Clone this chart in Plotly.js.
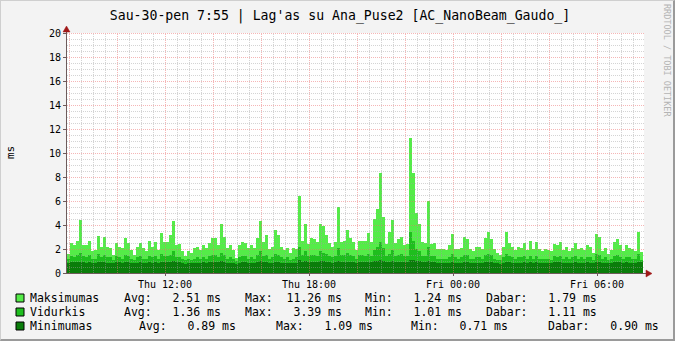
<!DOCTYPE html>
<html><head><meta charset="utf-8">
<script src="https://cdn.plot.ly/plotly-3.0.1.min.js"></script>
<style>
html,body{margin:0;padding:0;background:#F3F3F3;}
#wrap{position:relative;width:675px;height:341px;overflow:hidden;}
#chart{width:675px;height:341px;}
#frame{position:absolute;left:0;top:0;width:675px;height:341px;box-sizing:border-box;border-left:1px solid #CFCFCF;border-top:1px solid #CFCFCF;border-right:2px solid #9A9A9A;border-bottom:2px solid #9A9A9A;pointer-events:none;}
</style>
</head><body><div id="wrap"><div id="chart"></div><div id="frame"></div></div>
<script>
// ---- data ----
const startHour = 7 + 55/60;   // Thu 07:55
const stepHours = 0.125;       // one bar = 7.5 minutes
const seriesNames = ['Maksimumas', 'Vidurkis', 'Minimumas'];
const maxValues = [
 1.6,2.5,2.3,2.7,4.4,2.3,2.3,2.7,1.8,1.9,3.1,2.2,3.0,2.2,2.1,1.5,
 2.5,2.2,2.05,2.95,2.5,1.9,1.5,2.2,2.5,2.05,1.8,2.7,2.2,2.6,1.9,3.3,
 2.6,2.6,3.2,4.3,2.3,2.4,1.8,1.4,1.8,1.7,2.05,2.2,1.9,2.3,2.05,2.5,
 2.95,2.9,2.3,4.1,3.0,2.05,2.3,1.9,1.24,2.3,2.6,2.5,2.05,2.3,2.05,2.95,
 4.3,2.6,3.2,2.0,2.2,3.6,3.2,2.2,1.9,2.1,1.7,2.05,2.0,6.4,2.7,4.1,
 2.4,2.9,2.8,2.6,4.1,3.9,3.2,2.5,2.2,2.6,5.5,2.6,2.7,3.6,2.9,2.6,
 1.9,2.7,2.7,2.7,3.3,2.6,4.5,5.3,8.3,4.7,2.4,3.4,4.4,2.5,2.8,3.0,
 2.3,2.4,11.26,8.3,5.0,4.1,2.6,2.5,6.0,2.4,2.5,2.0,2.0,2.0,1.9,2.3,
 3.25,2.0,2.0,2.1,3.0,2.8,2.0,1.8,2.2,2.2,2.0,2.9,3.4,2.8,2.0,1.7,
 1.5,2.2,3.4,2.5,2.2,1.9,2.2,2.1,2.5,1.9,2.7,2.0,2.6,2.0,1.8,2.0,
 1.9,1.8,2.4,2.3,2.6,1.9,2.2,1.8,2.1,2.5,2.0,2.1,1.9,2.3,2.2,1.7,
 3.25,3.0,1.8,2.1,1.6,1.9,2.6,2.8,2.3,1.8,2.3,2.1,2.0,1.8,3.4,1.79
];
const avgValues = [
 1.2,1.4,1.3,1.5,1.7,1.4,1.3,1.5,1.2,1.2,1.6,1.3,1.5,1.3,1.3,1.1,
 1.4,1.3,1.2,1.5,1.4,1.2,1.1,1.3,1.4,1.2,1.2,1.4,1.3,1.4,1.2,1.6,
 1.4,1.4,1.5,1.8,1.3,1.3,1.2,1.05,1.2,1.1,1.2,1.3,1.2,1.3,1.2,1.4,
 1.5,1.5,1.3,1.7,1.5,1.2,1.3,1.2,1.01,1.3,1.4,1.4,1.2,1.3,1.2,1.5,
 1.8,1.4,1.5,1.2,1.3,1.6,1.5,1.3,1.2,1.3,1.1,1.2,1.3,2.2,1.5,1.8,
 1.4,1.5,1.5,1.4,1.8,1.7,1.6,1.4,1.3,1.4,2.05,1.5,1.5,1.7,1.5,1.4,
 1.2,1.5,1.5,1.4,1.6,1.4,1.9,2.2,2.6,2.1,1.4,1.6,1.9,1.4,1.5,1.6,
 1.4,1.4,3.39,2.7,2.0,1.8,1.4,1.4,2.2,1.4,1.4,1.2,1.2,1.2,1.2,1.3,
 1.6,1.3,1.2,1.3,1.5,1.5,1.2,1.15,1.3,1.3,1.2,1.5,1.6,1.5,1.2,1.1,
 1.1,1.3,1.6,1.4,1.3,1.2,1.3,1.3,1.4,1.2,1.4,1.2,1.4,1.2,1.15,1.2,
 1.2,1.1,1.4,1.3,1.4,1.2,1.3,1.15,1.3,1.4,1.2,1.3,1.2,1.3,1.3,1.1,
 1.6,1.5,1.15,1.3,1.1,1.2,1.4,1.5,1.3,1.2,1.3,1.3,1.2,1.15,1.6,1.11
];
const minValues = [
 0.85,0.9,0.88,0.92,0.95,0.9,0.87,0.9,0.85,0.86,0.93,0.88,0.92,0.87,0.86,0.8,
 0.9,0.88,0.85,0.92,0.9,0.84,0.8,0.87,0.9,0.86,0.84,0.9,0.87,0.9,0.85,0.95,
 0.9,0.9,0.93,0.98,0.88,0.88,0.84,0.78,0.84,0.8,0.85,0.87,0.84,0.88,0.85,0.9,
 0.93,0.92,0.88,0.98,0.93,0.85,0.87,0.84,0.71,0.87,0.9,0.9,0.85,0.87,0.85,0.93,
 0.97,0.9,0.92,0.85,0.87,0.95,0.92,0.87,0.84,0.86,0.8,0.85,0.86,1.05,0.92,0.98,
 0.9,0.93,0.92,0.9,0.98,0.96,0.93,0.9,0.87,0.9,1.04,0.9,0.91,0.95,0.92,0.9,
 0.84,0.92,0.92,0.9,0.93,0.9,0.98,1.02,1.07,1.0,0.88,0.93,0.98,0.89,0.91,0.93,
 0.88,0.88,1.09,1.06,1.0,0.97,0.9,0.88,1.02,0.88,0.89,0.85,0.85,0.85,0.84,0.87,
 0.93,0.86,0.85,0.86,0.91,0.9,0.85,0.83,0.87,0.87,0.85,0.91,0.93,0.9,0.85,0.8,
 0.78,0.87,0.93,0.9,0.87,0.85,0.87,0.86,0.9,0.84,0.9,0.85,0.9,0.85,0.82,0.85,
 0.85,0.82,0.9,0.88,0.9,0.84,0.87,0.82,0.87,0.9,0.85,0.87,0.84,0.88,0.87,0.8,
 0.93,0.92,0.82,0.87,0.8,0.84,0.9,0.92,0.88,0.84,0.88,0.87,0.85,0.83,0.93,0.90
];
const xTickValues = [12, 18, 24, 30];
const xTickLabels = ['Thu 12:00', 'Thu 18:00', 'Fri 00:00', 'Fri 06:00'];
const yTickValues = [0, 2, 4, 6, 8, 10, 12, 14, 16, 18, 20];
const legendRows = [
  ['Avg:', '2.51', 'Max:', '11.26', 'Min:', '1.24', 'Dabar:', '1.79'],
  ['Avg:', '1.36', 'Max:', '3.39', 'Min:', '1.01', 'Dabar:', '1.11'],
  ['Avg:', '0.89', 'Max:', '1.09', 'Min:', '0.71', 'Dabar:', '0.90']
];
const titleText = "Sau-30-pen 7:55 | Lag'as su Ana_Puse2 [AC_NanoBeam_Gaudo_]";
const yTitle = 'ms';
const watermark = 'RRDTOOL / TOBI OETIKER';

// ---- styles ----
const FONT = 'DejaVu Sans Mono, monospace';
const COLORS = ['#54EC48', '#1EBE1E', '#0A7D0A'];
const AXIS = '#6E5A5A';
const ARROW = '#A01818';
const MINOR = 'rgba(160,160,160,0.45)';
const MAJOR = 'rgba(235,110,110,0.5)';
const L = 67, T = 33, W = 577, H = 240;
const FW = 675, FH = 341;
const px2x = p => (p - L) / W;
const py2y = p => (T + H - p) / H;

const tEnd = startHour + W / 24;
const xs = maxValues.map((_, i) => startHour + (i + 0.5) * stepHours);
const seriesValues = [maxValues, avgValues, minValues];
const traces = seriesValues.map((vals, k) => ({
  type: 'bar', name: seriesNames[k], x: xs, y: vals, width: stepHours,
  marker: {color: COLORS[k], line: {width: 0}}, hoverinfo: 'skip'
}));

const shapes = [];
// vertical grid
for (let h = Math.ceil(startHour * 2) / 2; h < tEnd - 1e-9; h += 0.5) {
  const major = Math.abs(h / 2 - Math.round(h / 2)) < 1e-9;
  const xv = h + 0.5 / 24;
  shapes.push({type: 'line', xref: 'x', yref: 'paper', x0: xv, x1: xv, y0: 0, y1: 1, layer: 'above',
    line: {color: major ? MAJOR : MINOR, width: 1, dash: '1px,1px'}});
}
// horizontal grid
for (let v = 0.5; v <= 20 + 1e-9; v += 0.5) {
  const major = Math.abs(v / 2 - Math.round(v / 2)) < 1e-9;
  const yv = v - 0.5 / 12;
  shapes.push({type: 'line', xref: 'paper', yref: 'y', x0: 0, x1: 1, y0: yv, y1: yv, layer: 'above',
    line: {color: major ? MAJOR : MINOR, width: 1, dash: '1px,1px'}});
}
// axis arrows
shapes.push({type: 'line', xref: 'paper', yref: 'paper', x0: px2x(66.5), x1: px2x(66.5), y0: py2y(33), y1: py2y(30), line: {color: AXIS, width: 1}});
shapes.push({type: 'path', xref: 'paper', yref: 'paper', layer: 'above',
  path: `M ${px2x(66.5)},${py2y(26)} L ${px2x(63)},${py2y(32)} L ${px2x(70)},${py2y(32)} Z`,
  fillcolor: ARROW, line: {color: ARROW, width: 0.5}});
shapes.push({type: 'line', xref: 'paper', yref: 'paper', x0: px2x(644), x1: px2x(647), y0: py2y(273.5), y1: py2y(273.5), line: {color: AXIS, width: 1}});
shapes.push({type: 'path', xref: 'paper', yref: 'paper', layer: 'above',
  path: `M ${px2x(652)},${py2y(273.5)} L ${px2x(646)},${py2y(270)} L ${px2x(646)},${py2y(277)} Z`,
  fillcolor: ARROW, line: {color: ARROW, width: 0.5}});

// legend
const rowY = [298, 312, 326];
const groupX = [[124, 244.5, 365, 486], [124, 244.5, 365, 486], [138.6, 275.5, 411, 547.6]];
const annotations = [];
const LF = {family: FONT, size: 11.5, color: '#000'};
rowY.forEach((cy, r) => {
  shapes.push({type: 'rect', xref: 'paper', yref: 'paper',
    x0: px2x(16), x1: px2x(24), y0: py2y(cy + 4), y1: py2y(cy - 4),
    fillcolor: COLORS[r], line: {color: '#000', width: 1}});
  annotations.push({xref: 'paper', yref: 'paper', x: px2x(30), y: py2y(cy), xanchor: 'left', yanchor: 'middle',
    text: seriesNames[r], showarrow: false, font: LF, borderpad: 0, borderwidth: 0});
  const row = legendRows[r];
  for (let g = 0; g < 4; g++) {
    const label = row[g * 2], val = row[g * 2 + 1];
    const txt = label + val.padStart(7, ' ') + ' ms';
    annotations.push({xref: 'paper', yref: 'paper', x: px2x(groupX[r][g]), y: py2y(cy), xanchor: 'left', yanchor: 'middle',
      text: txt.replace(/ /g, '&nbsp;'), showarrow: false, font: LF, borderpad: 0, borderwidth: 0});
  }
});
annotations.push({xref: 'paper', yref: 'paper', x: px2x(10), y: py2y(153), xanchor: 'center', yanchor: 'middle',
  text: yTitle, textangle: -90, showarrow: false, font: {family: FONT, size: 11, color: '#000'}});
annotations.push({xref: 'paper', yref: 'paper', x: px2x(667), y: py2y(60), xanchor: 'center', yanchor: 'middle',
  text: watermark.replace(/ /g, '&nbsp;'), textangle: 90, showarrow: false, font: {family: FONT, size: 8.5, color: '#B4B4B4'}});

const layout = {
  width: FW, height: FH,
  margin: {l: L, r: FW - L - W, t: T, b: FH - T - H, pad: 0},
  paper_bgcolor: '#F3F3F3', plot_bgcolor: '#FFFFFF',
  barmode: 'overlay', bargap: 0, showlegend: false,
  title: {text: titleText, font: {family: FONT, size: 13.2, color: '#000'},
    xref: 'container', x: 340 / FW, xanchor: 'center', yref: 'container', y: 1 - 15 / FH, yanchor: 'middle'},
  xaxis: {range: [startHour, tEnd], tickmode: 'array', tickvals: xTickValues, ticktext: xTickLabels,
    showgrid: false, zeroline: false, showline: true, linecolor: AXIS, linewidth: 1,
    ticks: 'outside', ticklen: 2, tickcolor: AXIS, tickfont: {family: FONT, size: 10, color: '#000'}, fixedrange: true},
  yaxis: {range: [0, 20], tickmode: 'array', tickvals: yTickValues, ticktext: yTickValues.map(String),
    showgrid: false, zeroline: false, showline: true, linecolor: AXIS, linewidth: 1,
    ticks: 'outside', ticklen: 3, tickcolor: AXIS, tickfont: {family: FONT, size: 10, color: '#000'}, fixedrange: true},
  shapes, annotations
};
Plotly.newPlot('chart', traces, layout, {displayModeBar: false, staticPlot: true});
</script></body></html>
